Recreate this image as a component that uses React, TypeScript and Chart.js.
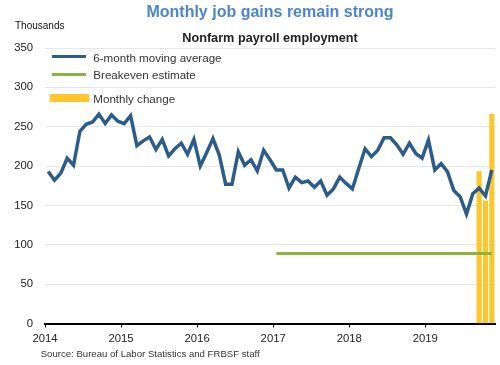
import { useEffect, useRef } from 'react';
import { Chart, registerables } from 'chart.js';

Chart.register(...registerables);

const START_YEAR = 2014;
// 6-month moving average of nonfarm payroll gains, Jan 2014 – Nov 2019 (thousands)
const movingAverage = [
  193, 182, 191, 210, 201, 244, 253, 256, 266, 254, 265, 257,
  254, 264, 226, 232, 237, 221, 234, 213, 222, 229, 215, 234,
  200, 217, 235, 214, 177, 177, 218, 201, 208, 194, 220, 208,
  195, 195, 172, 186, 179, 181, 173, 181, 163, 171, 186, 178,
  171, 197, 222, 212, 220, 236, 236, 227, 215, 229, 216, 210,
  233, 195, 203, 193, 169, 161, 139, 165, 172, 162, 195,
];
const breakevenValue = 89;
const breakevenStartMonth = 36; // Jan 2017
const monthlyChangeStartMonth = 68; // Sep 2019
const monthlyChange = [193, 156, 266];
const yearTicks = [2014, 2015, 2016, 2017, 2018, 2019];
const yMax = 350;
const yStep = 50;

const TITLE = 'Monthly job gains remain strong';
const SUBTITLE = 'Nonfarm payroll employment';
const UNITS = 'Thousands';
const SOURCE = 'Source: Bureau of Labor Statistics and FRBSF staff';
const LEGEND_MA = '6-month moving average';
const LEGEND_BE = 'Breakeven estimate';
const LEGEND_MC = 'Monthly change';

const FONT = '"Liberation Sans", Arial, Helvetica, sans-serif';
const BLUE = '#2c5d8a';
const GREEN = '#8cb43c';
const YELLOW = '#fec62e';
const TITLE_BLUE = '#4a86c8';

const mid = (m: number) => m + 0.5;

const overlayPlugin = {
  id: 'overlay',
  afterDraw(chart: any) {
    const ctx = chart.ctx as CanvasRenderingContext2D;
    const area = chart.chartArea;
    const cx = (area.left + area.right) / 2;
    ctx.save();
    ctx.textBaseline = 'alphabetic';

    ctx.textAlign = 'center';
    ctx.fillStyle = TITLE_BLUE;
    ctx.font = `bold 16px ${FONT}`;
    ctx.fillText(TITLE, cx, 17.3);

    ctx.fillStyle = '#222';
    ctx.font = `bold 12.7px ${FONT}`;
    ctx.fillText(SUBTITLE, cx, 42.3);

    ctx.textAlign = 'left';
    ctx.fillStyle = '#111';
    ctx.font = `10px ${FONT}`;
    ctx.fillText(UNITS, 15, 29.3);

    ctx.fillStyle = '#333';
    ctx.font = `9.6px ${FONT}`;
    ctx.fillText(SOURCE, 40.7, 356.5);

    // legend
    ctx.lineCap = 'butt';
    ctx.strokeStyle = BLUE;
    ctx.lineWidth = 3;
    ctx.beginPath();
    ctx.moveTo(52, 56.5);
    ctx.lineTo(86, 56.5);
    ctx.stroke();

    ctx.strokeStyle = GREEN;
    ctx.beginPath();
    ctx.moveTo(52, 74.5);
    ctx.lineTo(86, 74.5);
    ctx.stroke();

    ctx.fillStyle = YELLOW;
    ctx.fillRect(49.7, 94, 39.6, 8);

    ctx.fillStyle = '#333';
    ctx.font = `11.6px ${FONT}`;
    ctx.fillText(LEGEND_MA, 93.3, 61.5);
    ctx.fillText(LEGEND_BE, 93.3, 79.3);
    ctx.fillText(LEGEND_MC, 93.3, 103.3);

    ctx.restore();
  },
};

export default function App() {
  const canvasRef = useRef<HTMLCanvasElement | null>(null);

  useEffect(() => {
    document.body.style.margin = '0';
    const canvas = canvasRef.current;
    if (!canvas) return;

    const maPoints = movingAverage.map((v, i) => ({ x: mid(i), y: v }));
    const lastMonth = movingAverage.length - 1;
    const bePoints = [
      { x: mid(breakevenStartMonth), y: breakevenValue },
      { x: mid(lastMonth), y: breakevenValue },
    ];
    const mcPoints = monthlyChange.map((v, i) => ({ x: mid(monthlyChangeStartMonth + i), y: v }));

    const chart = new Chart(canvas, {
      type: 'line',
      data: {
        datasets: [
          {
            type: 'line',
            label: LEGEND_MA,
            data: maPoints,
            borderColor: BLUE,
            borderWidth: 3.5,
            pointRadius: 0,
            tension: 0,
            fill: false,
            order: 1,
          },
          {
            type: 'line',
            label: LEGEND_BE,
            data: bePoints,
            borderColor: GREEN,
            borderWidth: 3,
            pointRadius: 0,
            tension: 0,
            fill: false,
            order: 2,
          },
          {
            type: 'bar',
            label: LEGEND_MC,
            data: mcPoints,
            backgroundColor: YELLOW,
            borderWidth: 0,
            barThickness: 4.5,
            order: 3,
          } as any,
        ],
      },
      options: {
        responsive: false,
        animation: false,
        events: [],
        layout: { padding: { top: 48, left: 0, right: 5, bottom: 0 } },
        plugins: {
          legend: { display: false },
          title: { display: false },
          tooltip: { enabled: false },
        },
        scales: {
          x: {
            type: 'linear',
            min: 0,
            max: lastMonth + 1,
            offset: false,
            afterBuildTicks: (scale: any) => {
              scale.ticks = yearTicks.map((y) => ({ value: (y - START_YEAR) * 12 }));
            },
            afterFit: (scale: any) => {
              scale.height = 41.5;
            },
            ticks: {
              autoSkip: false,
              maxRotation: 0,
              padding: 5,
              color: '#222',
              font: { family: FONT, size: 11.3 },
              callback: (v: any) => String(START_YEAR + Math.round(Number(v) / 12)),
            },
            grid: {
              display: true,
              offset: false,
              drawOnChartArea: false,
              drawTicks: true,
              tickLength: 4,
              color: '#000',
            },
            border: { display: true, color: '#000', width: 2 },
          },
          y: {
            min: 0,
            max: yMax,
            afterFit: (scale: any) => {
              scale.width = 45;
            },
            ticks: {
              stepSize: yStep,
              padding: 12,
              color: '#222',
              font: { family: FONT, size: 11.3 },
            },
            grid: {
              color: '#e6e6e6',
              lineWidth: 1,
              drawTicks: false,
            },
            border: { display: false },
          },
        },
      },
      plugins: [overlayPlugin],
    } as any);

    return () => chart.destroy();
  }, []);

  return (
    <div style={{ width: 500, height: 365, background: '#fff' }}>
      <canvas ref={canvasRef} width={500} height={365} style={{ display: 'block' }} />
    </div>
  );
}
